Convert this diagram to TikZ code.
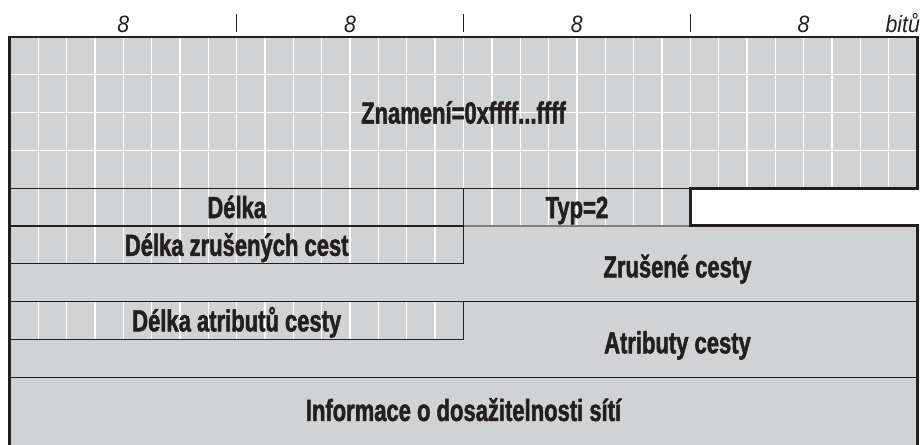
\documentclass[tikz,border=0pt]{standalone}
\usepackage{fontspec}
\newfontfamily\fieldfont[FakeStretch=0.72, BoldFeatures={FakeBold=1.6}]{Liberation Sans}
\newfontfamily\bitsfont[FakeStretch=0.9]{Liberation Sans}
\definecolor{fieldgray}{RGB}{209,210,212}
\definecolor{linedark}{RGB}{35,31,32}

\begin{document}
\begin{tikzpicture}[x=0.75cm, y=1cm,
  field/.style={font=\fieldfont\bfseries\fontsize{23}{24}\selectfont, text=linedark, inner sep=0pt, text height=16.5pt, text depth=0pt},
  bitlabel/.style={font=\bitsfont\itshape\fontsize{17.8}{20}\selectfont, text=linedark, inner sep=0pt, anchor=base},
  gridline/.style={white, line width=1pt},
  thinline/.style={linedark, line width=0.9pt},
  frameline/.style={linedark, line width=2.25pt}]
\useasboundingbox (-0.352,0.979) rectangle (32.176,-10.77);
\clip (-0.352,0.979) rectangle (32.176,-10.77);
% background of the fields
\fill[fieldgray] (0,-11) -- (0,0) -- (32,0) -- (32,-4) -- (24,-4) -- (24,-5) -- (32,-5) -- (32,-11) -- cycle;
% bit grid
\foreach \i in {1,...,31} \draw[gridline] (\i,0) -- (\i,-4);
\foreach \j in {1,2,3} \draw[gridline] (0,-\j) -- (32,-\j);
\foreach \i in {1,...,23} \draw[gridline] (\i,-4) -- (\i,-5);
\foreach \i in {1,...,15} \draw[gridline] (\i,-5) -- (\i,-6) (\i,-7) -- (\i,-8);
% field borders
\draw[thinline] (0,-4) -- (24,-4);
\draw[thinline] (16,-4) -- (16,-6);
\draw[thinline] (0,-5) -- (16,-5);
\draw[thinline, draw=gray] (16,-5) -- (24,-5);
\draw[thinline] (0,-6) -- (16,-6);
\draw[thinline] (0,-7) -- (32,-7);
\draw[thinline] (16,-7) -- (16,-8);
\draw[thinline] (0,-8) -- (16,-8);
\draw[thinline] (0,-9) -- (32,-9);
\draw[frameline] (0,-11) -- (0,0) -- (32,0) -- (32,-4) -- (24,-4) -- (24,-5) -- (32,-5) -- (32,-11);
% widths
\node[bitlabel] (b1) at (4,0.13) {8};
\node[bitlabel] (b2) at (12,0.13) {8};
\node[bitlabel] (b3) at (20,0.13) {8};
\node[bitlabel] (b4) at (28,0.13) {8};
\node[bitlabel, anchor=base east] (bits) at (32.11,0.13) {bitů};
\foreach \i in {8,16,24} \draw[linedark, line width=0.8pt] (\i,0.61) -- (\i,0.13);
% field names
\node[field] (Zn) at (16,-2) {Znamení=0xffff...ffff};
\node[field] (Dl) at (8,-4.5) {Délka};
\node[field] (Typ) at (20,-4.5) {Typ=2};
\node[field] (DlZ) at (8,-5.5) {Délka zrušených cest};
\node[field] (Zr) at (23.55,-6.07) {Zrušené cesty};
\node[field] (DlA) at (8,-7.5) {Délka atributů cesty};
\node[field] (At) at (23.55,-8.08) {Atributy cesty};
\node[field] (Inf) at (16,-9.87) {Informace o dosažitelnosti sítí};
\end{tikzpicture}
\end{document}
